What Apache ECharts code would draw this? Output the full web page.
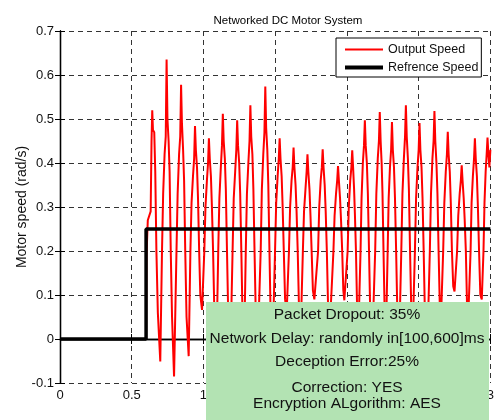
<!DOCTYPE html>
<html>
<head>
<meta charset="utf-8">
<script src="https://cdn.jsdelivr.net/npm/echarts@6/dist/echarts.min.js"></script>
<style>
html,body{margin:0;padding:0;background:#fff;}
#chart{width:497px;height:420px;}
</style>
</head>
<body>
<div id="chart"></div>
<script>
// ---- data ----
var chartTitle = 'Networked DC Motor System';
var yAxisName = 'Motor speed (rad/s)';
var seriesNames = ['Output Speed', 'Refrence Speed'];
var xTicks = [0, 0.5, 1, 1.5, 2, 2.5, 3];
var yTicks = [-0.1, 0, 0.1, 0.2, 0.3, 0.4, 0.5, 0.6, 0.7];

// reference (step) speed: [time, value]
var referenceSpeed = [[0, 0], [0.6, 0], [0.6, 0.25], [3, 0.25]];

// measured output speed: [time, value]
var outputSpeed = [
  [0, 0], [0.6, 0],
  [0.603, 0.19], [0.612, 0.27], [0.632, 0.29], [0.638, 0.45], [0.643, 0.52], [0.648, 0.475], [0.657, 0.47], [0.664, 0.38], [0.672, 0.2], [0.682, 0.06], [0.699, -0.051],
  [0.711, 0.2], [0.719, 0.33], [0.729, 0.42], [0.737, 0.46], [0.743, 0.635], [0.749, 0.5], [0.757, 0.45], [0.764, 0.38], [0.772, 0.2], [0.781, 0.05], [0.795, -0.085],
  [0.812, 0.2], [0.82, 0.33], [0.83, 0.42], [0.838, 0.46], [0.844, 0.578], [0.85, 0.49], [0.858, 0.43], [0.865, 0.36], [0.873, 0.2], [0.882, 0.05], [0.897, -0.039],
  [0.909, 0.2], [0.917, 0.31], [0.927, 0.37], [0.935, 0.41], [0.941, 0.484], [0.947, 0.43], [0.955, 0.39], [0.962, 0.32], [0.97, 0.2], [0.978, 0.1], [0.99, 0.066],
  [1.006, 0.2], [1.014, 0.3], [1.024, 0.36], [1.032, 0.4], [1.038, 0.456], [1.044, 0.41], [1.052, 0.37], [1.059, 0.3], [1.067, 0.2], [1.076, 0.06], [1.091, -0.02],
  [1.103, 0.2], [1.111, 0.32], [1.121, 0.39], [1.129, 0.44], [1.135, 0.512], [1.141, 0.45], [1.149, 0.41], [1.156, 0.34], [1.164, 0.2], [1.173, 0.05], [1.19, 0.0],
  [1.203, 0.2], [1.211, 0.32], [1.221, 0.38], [1.229, 0.43], [1.235, 0.497], [1.241, 0.44], [1.249, 0.4], [1.256, 0.33], [1.264, 0.2], [1.273, 0.04], [1.283, -0.03],
  [1.295, 0.2], [1.303, 0.33], [1.313, 0.4], [1.321, 0.45], [1.327, 0.531], [1.333, 0.46], [1.341, 0.42], [1.348, 0.34], [1.356, 0.2], [1.365, 0.05], [1.382, 0.02],
  [1.399, 0.2], [1.407, 0.34], [1.417, 0.42], [1.425, 0.47], [1.431, 0.574], [1.437, 0.48], [1.445, 0.43], [1.452, 0.35], [1.46, 0.2], [1.469, 0.04], [1.482, -0.02],
  [1.499, 0.2], [1.507, 0.31], [1.517, 0.37], [1.525, 0.41], [1.531, 0.456], [1.537, 0.41], [1.545, 0.37], [1.552, 0.3], [1.56, 0.2], [1.569, 0.09], [1.58, 0.06],
  [1.596, 0.2], [1.604, 0.3], [1.614, 0.36], [1.622, 0.39], [1.628, 0.435], [1.634, 0.39], [1.642, 0.35], [1.649, 0.29], [1.657, 0.2], [1.666, 0.07], [1.679, 0.03],
  [1.693, 0.2], [1.701, 0.29], [1.711, 0.34], [1.719, 0.38], [1.725, 0.42], [1.731, 0.38], [1.739, 0.34], [1.746, 0.28], [1.754, 0.2], [1.763, 0.11], [1.773, 0.09],
  [1.799, 0.2], [1.807, 0.3], [1.817, 0.36], [1.825, 0.39], [1.831, 0.431], [1.837, 0.39], [1.845, 0.35], [1.852, 0.29], [1.86, 0.2], [1.869, 0.07], [1.884, 0.05],
  [1.906, 0.2], [1.914, 0.28], [1.924, 0.33], [1.932, 0.36], [1.938, 0.393], [1.944, 0.36], [1.952, 0.32], [1.959, 0.27], [1.967, 0.2], [1.975, 0.11], [1.982, 0.088],
  [2.005, 0.2], [2.013, 0.3], [2.023, 0.36], [2.031, 0.39], [2.037, 0.429], [2.043, 0.39], [2.05, 0.34], [2.056, 0.28], [2.063, 0.2], [2.071, 0.07], [2.082, 0.04],
  [2.095, 0.2], [2.102, 0.32], [2.111, 0.4], [2.119, 0.44], [2.125, 0.497], [2.131, 0.44], [2.139, 0.4], [2.146, 0.33], [2.154, 0.2], [2.163, 0.05], [2.178, 0.0],
  [2.197, 0.2], [2.205, 0.33], [2.215, 0.41], [2.223, 0.45], [2.229, 0.516], [2.235, 0.45], [2.242, 0.4], [2.248, 0.33], [2.255, 0.2], [2.263, 0.06], [2.273, 0.02],
  [2.284, 0.2], [2.291, 0.32], [2.3, 0.39], [2.308, 0.43], [2.314, 0.493], [2.32, 0.43], [2.328, 0.39], [2.335, 0.32], [2.343, 0.2], [2.352, 0.05], [2.365, 0.0],
  [2.379, 0.2], [2.387, 0.33], [2.397, 0.41], [2.405, 0.46], [2.411, 0.531], [2.417, 0.46], [2.425, 0.41], [2.432, 0.34], [2.44, 0.2], [2.449, 0.06], [2.46, 0.03],
  [2.474, 0.2], [2.482, 0.32], [2.492, 0.39], [2.5, 0.43], [2.506, 0.491], [2.512, 0.43], [2.52, 0.39], [2.527, 0.32], [2.535, 0.2], [2.544, 0.05], [2.562, 0.0],
  [2.578, 0.2], [2.586, 0.33], [2.596, 0.41], [2.604, 0.45], [2.61, 0.518], [2.616, 0.45], [2.624, 0.4], [2.631, 0.33], [2.639, 0.2], [2.647, 0.08], [2.656, 0.05],
  [2.671, 0.2], [2.679, 0.31], [2.689, 0.38], [2.697, 0.42], [2.703, 0.471], [2.709, 0.42], [2.717, 0.38], [2.724, 0.31], [2.732, 0.2], [2.741, 0.12], [2.75, 0.108],
  [2.768, 0.2], [2.776, 0.28], [2.786, 0.33], [2.794, 0.36], [2.8, 0.395], [2.806, 0.36], [2.814, 0.32], [2.821, 0.27], [2.829, 0.2], [2.837, 0.08], [2.847, 0.06],
  [2.862, 0.2], [2.869, 0.31], [2.878, 0.37], [2.886, 0.41], [2.892, 0.456], [2.898, 0.41], [2.906, 0.37], [2.913, 0.3], [2.921, 0.2], [2.93, 0.1], [2.94, 0.09],
  [2.952, 0.2], [2.959, 0.31], [2.967, 0.38], [2.974, 0.42], [2.98, 0.458], [2.986, 0.42], [2.993, 0.39], [3.0, 0.43]
];

var annotationLines = [
  'Packet Dropout: 35%',
  'Network Delay: randomly in[100,600]ms',
  'Deception Error:25%',
  'Correction: YES',
  'Encryption ALgorithm: AES'
];

// ---- chart ----
var FONT = 'Liberation Sans, Arial, Helvetica, sans-serif';
var chart = echarts.init(document.getElementById('chart'), null, {renderer: 'canvas'});

function fmt(v) { return String(+v.toFixed(2)); }

var annotationY = [315, 339, 362, 388, 404];
var graphics = [{
  type: 'rect', z: 100,
  shape: {x: 206, y: 302, width: 283, height: 120},
  style: {fill: '#b3e3b3'}
}];
annotationLines.forEach(function (t, i) {
  graphics.push({
    type: 'text', z: 101, x: 347, y: annotationY[i],
    style: {text: t, fill: '#111', font: '15.5px ' + FONT, textAlign: 'center', textVerticalAlign: 'middle'}
  });
});

var option = {
  animation: false,
  backgroundColor: '#fff',
  title: {
    text: chartTitle, left: 283, top: 10, textAlign: 'center',
    textStyle: {fontFamily: FONT, fontSize: 11.5, fontWeight: 'normal', color: '#000'}
  },
  grid: {left: 60, top: 31, right: 5, bottom: 37, containLabel: false},
  legend: {
    orient: 'vertical', left: 336, top: 38,
    backgroundColor: '#fff', borderColor: '#000', borderWidth: 1,
    padding: [5, 3, 3, 9], itemGap: 5, itemWidth: 38, itemHeight: 14,
    textStyle: {fontFamily: FONT, fontSize: 12.5, color: '#111'},
    data: [
      {name: seriesNames[0], icon: 'path://M0,6 L38,6 L38,8 L0,8 Z', itemStyle: {color: '#f00'}},
      {name: seriesNames[1], icon: 'path://M0,5 L38,5 L38,9 L0,9 Z', itemStyle: {color: '#000'}}
    ]
  },
  xAxis: [{
    type: 'value', min: 0, max: 3, interval: 0.5,
    axisLine: {show: true, lineStyle: {color: '#000', width: 1.3}},
    axisTick: {show: true, inside: true, length: 5, lineStyle: {color: '#000'}},
    axisLabel: {fontFamily: FONT, fontSize: 13, color: '#111', margin: 6, formatter: fmt},
    splitLine: {show: true, lineStyle: {color: '#333', type: [5, 4], width: 1}}
  }, {
    type: 'value', min: 0, max: 3, interval: 0.5, position: 'top',
    axisLine: {show: true, lineStyle: {color: '#000', width: 1.3}},
    axisTick: {show: true, inside: true, length: 5, lineStyle: {color: '#000'}},
    axisLabel: {show: false}, splitLine: {show: false}
  }],
  yAxis: [{
    type: 'value', min: -0.1, max: 0.7, interval: 0.1,
    name: yAxisName, nameLocation: 'middle', nameGap: 38, nameRotate: 90,
    nameMoveOverlap: false,
    nameTextStyle: {fontFamily: FONT, fontSize: 14, color: '#111', verticalAlign: 'middle'},
    axisLine: {show: true, lineStyle: {color: '#000', width: 1.3}},
    axisTick: {show: true, inside: true, length: 5, lineStyle: {color: '#000'}},
    axisLabel: {fontFamily: FONT, fontSize: 13, color: '#111', margin: 6, formatter: fmt},
    splitLine: {show: true, lineStyle: {color: '#333', type: [5, 4], width: 1}}
  }, {
    type: 'value', min: -0.1, max: 0.7, interval: 0.1, position: 'right',
    axisLine: {show: true, lineStyle: {color: '#000', width: 1.3}},
    axisTick: {show: true, inside: true, length: 5, lineStyle: {color: '#000'}},
    axisLabel: {show: false}, splitLine: {show: false}
  }],
  series: [{
    name: seriesNames[0], type: 'line', data: outputSpeed,
    showSymbol: false, symbol: 'none', z: 3,
    lineStyle: {color: '#f00', width: 2}, itemStyle: {color: '#f00'}
  }, {
    name: seriesNames[1], type: 'line', data: referenceSpeed,
    showSymbol: false, symbol: 'none', z: 4,
    lineStyle: {color: '#000', width: 3.5}, itemStyle: {color: '#000'}
  }],
  graphic: graphics
};
chart.setOption(option);
</script>
</body>
</html>
